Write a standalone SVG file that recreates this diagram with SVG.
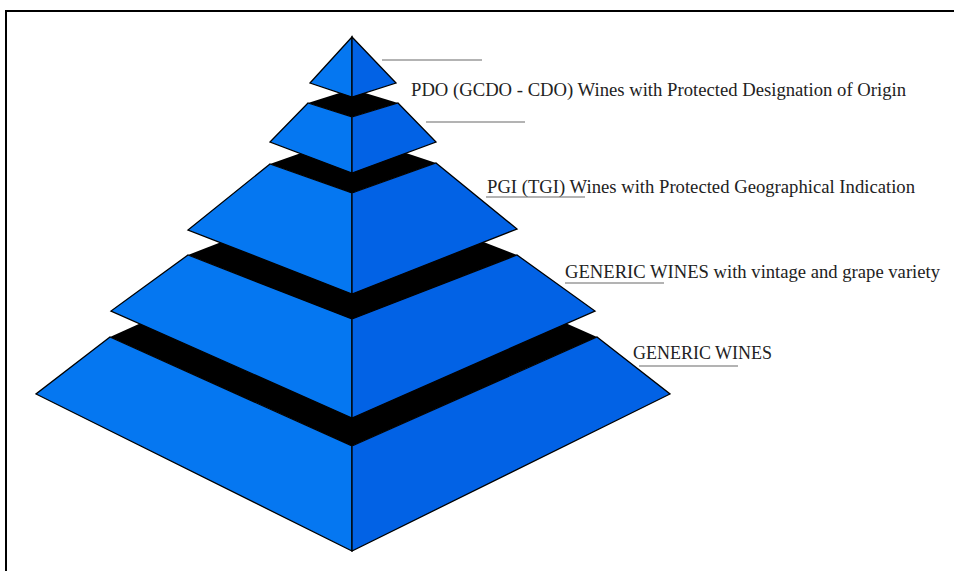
<svg xmlns="http://www.w3.org/2000/svg" width="954" height="571" viewBox="0 0 954 571">
<style>
.lf{fill:#0577f1;stroke:#000;stroke-width:1.3;stroke-linejoin:miter}
.rf{fill:#0262e5;stroke:#000;stroke-width:1.3;stroke-linejoin:miter}
.top{fill:#000}
.lbl{font-family:"Liberation Serif","Times New Roman",serif;font-size:19.5px;fill:#222}
.ul{stroke:#9a9a9a;stroke-width:1.6;fill:none}
</style>
<rect width="954" height="571" fill="#fff"/>
<path d="M6,571 V11 H954" fill="none" stroke="#000" stroke-width="2"/>
<g id="tier5">
<polygon class="top" points="110,337 352,228 597,337 352,446"/>
<polygon class="lf" points="110,337 352,446 352,551 36,394"/>
<polygon class="rf" points="352,446 597,337 670,394 352,551"/>
</g>
<g id="tier4">
<polygon class="top" points="188,255 352,191 517,255 352,319"/>
<polygon class="lf" points="188,255 352,319 352,418 111,311"/>
<polygon class="rf" points="352,319 517,255 595,311 352,418"/>
</g>
<g id="tier3">
<polygon class="top" points="270,164 352,135 436,163 352,193"/>
<polygon class="lf" points="270,164 352,193 352,294 188,230"/>
<polygon class="rf" points="352,193 436,163 517,229 352,294"/>
</g>
<g id="tier2">
<polygon class="top" points="308,103 352,89 398,103 352,117"/>
<polygon class="lf" points="308,103 352,117 352,173 270,142"/>
<polygon class="rf" points="352,117 398,103 436,142 352,173"/>
</g>
<g id="tier1">
<polygon class="lf" points="352,37 352,97 310,83"/>
<polygon class="rf" points="352,37 396,83 352,97"/>
</g>
<g id="connectors">
<line class="ul" x1="382" y1="60" x2="482" y2="60"/>
<line class="ul" x1="426" y1="122" x2="525" y2="122"/>
<line class="ul" x1="486" y1="197" x2="585" y2="197"/>
<line class="ul" x1="565" y1="283" x2="664" y2="283"/>
<line class="ul" x1="639" y1="366" x2="738" y2="366"/>
</g>
<g id="labels">
<text class="lbl" x="411" y="96" textLength="495" lengthAdjust="spacingAndGlyphs">PDO (GCDO - CDO) Wines with Protected Designation of Origin</text>
<text class="lbl" x="487" y="193" textLength="428" lengthAdjust="spacingAndGlyphs">PGI (TGI) Wines with Protected Geographical Indication</text>
<text class="lbl" x="565" y="278" textLength="375" lengthAdjust="spacingAndGlyphs">GENERIC WINES with vintage and grape variety</text>
<text class="lbl" x="633" y="359" textLength="139" lengthAdjust="spacingAndGlyphs">GENERIC WINES</text>
</g>
</svg>
